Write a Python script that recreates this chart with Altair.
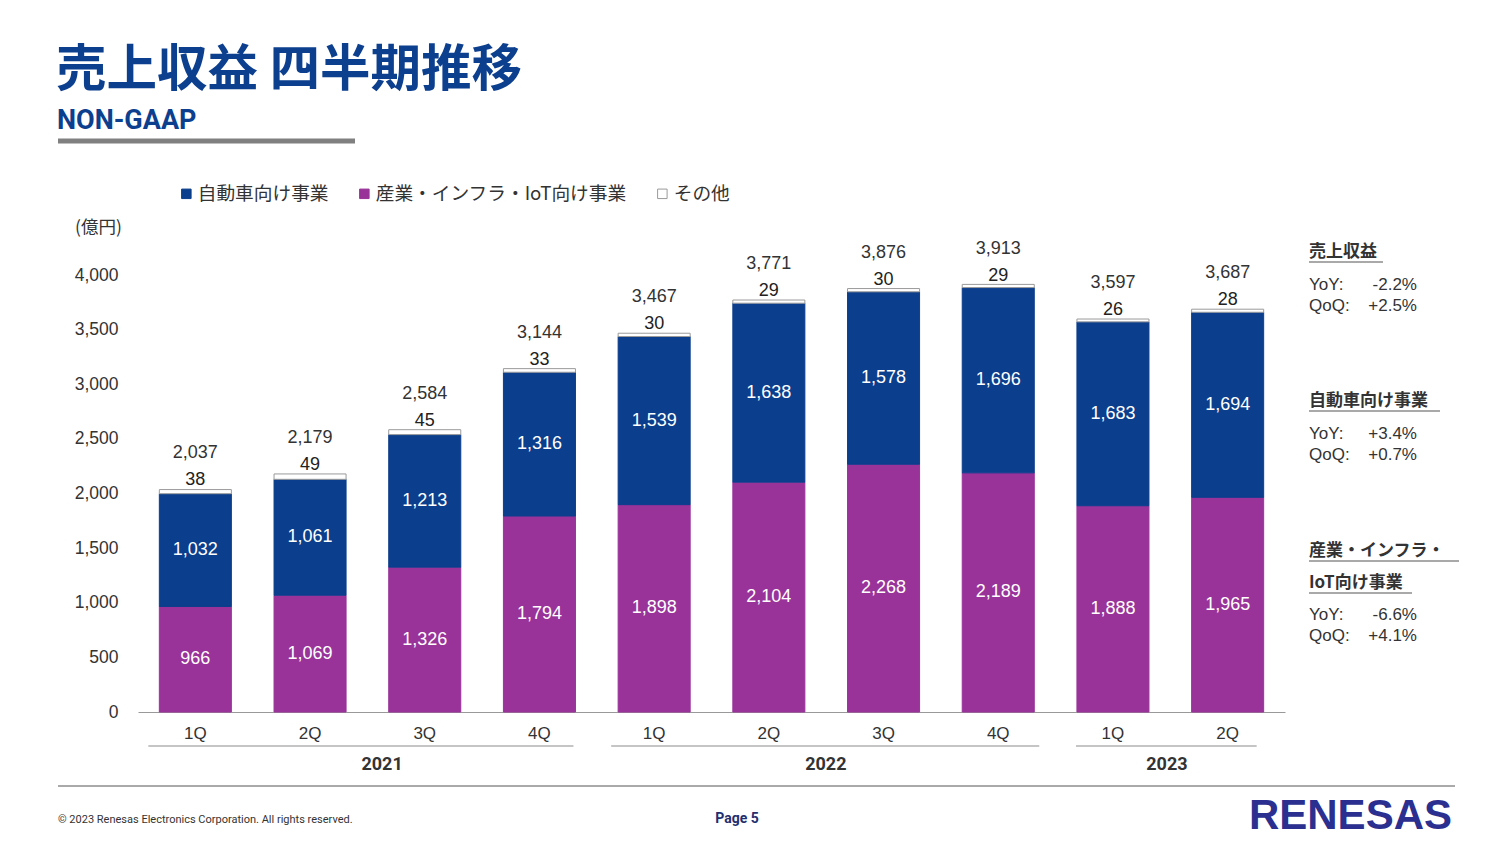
import altair as alt
import pandas as pd

# ---------------- data ----------------
years = ["2021", "2021", "2021", "2021", "2022", "2022", "2022", "2022", "2023", "2023"]
quarters = ["1Q", "2Q", "3Q", "4Q", "1Q", "2Q", "3Q", "4Q", "1Q", "2Q"]
industrial = [966, 1069, 1326, 1794, 1898, 2104, 2268, 2189, 1888, 1965]
automotive = [1032, 1061, 1213, 1316, 1539, 1638, 1578, 1696, 1683, 1694]
other = [38, 49, 45, 33, 30, 29, 30, 29, 26, 28]
totals = [2037, 2179, 2584, 3144, 3467, 3771, 3876, 3913, 3597, 3687]
series_names = ["自動車向け事業", "産業・インフラ・IoT向け事業", "その他"]
year_groups = ["2021", "2022", "2023"]
year_first = ["2021-1Q", "2022-1Q", "2023-1Q"]
year_last = ["2021-4Q", "2022-4Q", "2023-2Q"]
y_ticks = [0, 500, 1000, 1500, 2000, 2500, 3000, 3500, 4000]

keys = [f"{y}-{q}" for y, q in zip(years, quarters)]

rows = []
for i, k in enumerate(keys):
    rows.append({"key": k, "series": series_names[1], "value": industrial[i], "ord": 0})
    rows.append({"key": k, "series": series_names[0], "value": automotive[i], "ord": 1})
    rows.append({"key": k, "series": series_names[2], "value": other[i], "ord": 2})
long_df = pd.DataFrame(rows)

tot_df = pd.DataFrame({"key": keys, "total": totals,
                       "other": other,
                       "ind": industrial, "auto": automotive})
grp_df = pd.DataFrame({"year": year_groups, "first": year_first, "last": year_last})

BLUE = "#0b3e8c"
PURPLE = "#993399"
GREY_TXT = "#333333"
NUM_FONT = "Liberation Sans, Arial, sans-serif"
JP_FONT = "Noto Sans CJK JP, sans-serif"
NARROW = "Roboto, Liberation Sans, sans-serif"

W, H = 1147, 437
OX, OY = 138, 275  # plot origin in page coords
TOTAL_W, TOTAL_H = 1496, 834


def px(x):
    return x - OX


def py(y):
    return y - OY


y_axis = alt.Axis(title=None, values=y_ticks,
                  labelExpr="format(datum.value, ',')", grid=False,
                  domain=False, ticks=False, labelPadding=20,
                  labelFont=NUM_FONT, labelFontSize=17.5, labelColor=GREY_TXT)
y_scale = alt.Scale(domain=[0, 4000], nice=False)

x_enc = alt.X("key:N", sort=keys,
              scale=alt.Scale(paddingInner=0.372, paddingOuter=0.186),
              axis=alt.Axis(title=None, labelExpr="split(datum.value, '-')[1]",
                            labelAngle=0, labelFont=NUM_FONT, labelFontSize=17,
                            labelColor=GREY_TXT, ticks=False, labelPadding=13,
                            domainColor="#999999", domainWidth=1.2, grid=False))

leg = dict(title=None, orient="none", direction="horizontal",
           legendX=px(177), legendY=py(184),
           symbolType="square", symbolSize=90, symbolStrokeWidth=1,
           labelFont=JP_FONT, labelFontSize=18.7, labelLimit=600,
           labelColor=GREY_TXT, labelOffset=2, columnPadding=26)

bars = alt.Chart(long_df).mark_bar(strokeWidth=1, clip=False).encode(
    x=x_enc,
    y=alt.Y("sum(value):Q", stack="zero", scale=y_scale, axis=y_axis),
    fill=alt.Fill("series:N", scale=alt.Scale(domain=series_names,
                                              range=[BLUE, PURPLE, "#ffffff"]),
                  legend=alt.Legend(**leg)),
    stroke=alt.Stroke("series:N", scale=alt.Scale(domain=series_names,
                                                  range=[BLUE, PURPLE, "#9a9a9a"]),
                      legend=alt.Legend(**leg)),
    order=alt.Order("ord:Q"),
)

base_t = alt.Chart(tot_df)

ind_lbl = base_t.transform_calculate(mid="datum.ind / 2").mark_text(
    font=NUM_FONT, fontSize=18, color="white", baseline="middle").encode(
    x=alt.X("key:N", sort=keys), y=alt.Y("mid:Q", scale=y_scale, axis=y_axis),
    text=alt.Text("ind:Q", format=","))

auto_lbl = base_t.transform_calculate(mid="datum.ind + datum.auto / 2").mark_text(
    font=NUM_FONT, fontSize=18, color="white", baseline="middle").encode(
    x=alt.X("key:N", sort=keys), y=alt.Y("mid:Q", scale=y_scale, axis=y_axis),
    text=alt.Text("auto:Q", format=","))

oth_lbl = base_t.mark_text(font=NUM_FONT, fontSize=18, color="#222222",
                           baseline="middle", dy=-9).encode(
    x=alt.X("key:N", sort=keys), y=alt.Y("total:Q", scale=y_scale, axis=y_axis),
    text=alt.Text("other:Q", format=","))

tot_lbl = base_t.mark_text(font=NUM_FONT, fontSize=18, color=GREY_TXT,
                           baseline="middle", dy=-36).encode(
    x=alt.X("key:N", sort=keys), y=alt.Y("total:Q", scale=y_scale, axis=y_axis),
    text=alt.Text("total:Q", format=","))

grp_layers = []
for yr, x0, x1 in [("2021", -47, 34), ("2022", -43, 41), ("2023", -37, 29)]:
    grp_layers.append(
        alt.Chart(grp_df[grp_df.year == yr]).mark_rule(
            color="#8c8c8c", strokeWidth=1.2, xOffset=x0, x2Offset=x1).encode(
            x=alt.X("first:N", sort=keys), x2="last:N", y=alt.value(py(746))))

year_layers = []
for yr, anchor, dx in [("2021", "2021-2Q", 72), ("2022", "2022-2Q", 57), ("2023", "2023-1Q", 54)]:
    year_layers.append(
        alt.Chart(grp_df[grp_df.year == yr]).transform_calculate(a=f"'{anchor}'")
        .mark_text(font=NARROW, fontSize=18, fontWeight="bold", color=GREY_TXT,
                   baseline="middle", dx=dx)
        .encode(x=alt.X("a:N", sort=keys), y=alt.value(py(765)), text="year:N"))


def txt(s, x, y, size=17, weight="normal", color=GREY_TXT, font=NUM_FONT, align="left"):
    return alt.Chart(pd.DataFrame({"t": [s]})).mark_text(
        font=font, fontSize=size, fontWeight=weight, color=color,
        align=align, baseline="middle").encode(
        x=alt.value(px(x)), y=alt.value(py(y)), text="t:N")


def rule(x1, x2, y, color, width):
    return alt.Chart(pd.DataFrame({"a": [0]})).mark_rule(color=color, strokeWidth=width).encode(
        x=alt.value(px(x1)), x2=alt.value(px(x2)), y=alt.value(py(y)))


deco = [
    txt("売上収益 四半期推移", 56, 71, size=50.5, weight="bold", color="#0d3f8f", font=JP_FONT),
    txt("NON-GAAP", 57, 121, size=27, weight="bold", color="#0d3f8f", font=NARROW),
    rule(58, 355, 141, "#808080", 5),
    txt("(億円)", 75, 228, size=17.5, font=JP_FONT),
    # right panel
    txt("売上収益", 1309, 252, size=17, weight="bold", font=JP_FONT),
    rule(1309, 1383, 262, "#555555", 1.2),
    txt("YoY:", 1309, 285), txt("-2.2%", 1417, 285, align="right"),
    txt("QoQ:", 1309, 306), txt("+2.5%", 1417, 306, align="right"),
    txt("自動車向け事業", 1309, 401, size=17, weight="bold", font=JP_FONT),
    rule(1309, 1440, 411, "#555555", 1.2),
    txt("YoY:", 1309, 434), txt("+3.4%", 1417, 434, align="right"),
    txt("QoQ:", 1309, 455), txt("+0.7%", 1417, 455, align="right"),
    txt("産業・インフラ・", 1309, 551, size=17, weight="bold", font=JP_FONT),
    rule(1309, 1459, 561, "#555555", 1.2),
    txt("IoT向け事業", 1309, 583, size=17, weight="bold", font=JP_FONT),
    rule(1309, 1412, 593, "#555555", 1.2),
    txt("YoY:", 1309, 615), txt("-6.6%", 1417, 615, align="right"),
    txt("QoQ:", 1309, 636), txt("+4.1%", 1417, 636, align="right"),
    # footer
    rule(58, 1455, 786, "#555555", 1),
    txt("© 2023 Renesas Electronics Corporation. All rights reserved.", 58, 820,
        size=11, font=NARROW),
    txt("Page 5", 737, 819, size=14, weight="bold", font=NARROW, align="center",
        color="#1f2f6f"),
    txt("RENESAS", 1452, 816, size=42, weight="bold", font=NUM_FONT, align="right",
        color="#2b2f8f"),
]

chart = alt.layer(bars, ind_lbl, auto_lbl, oth_lbl, tot_lbl,
                  *grp_layers, *year_layers, *deco).properties(
    width=W, height=H,
    autosize=alt.AutoSizeParams(type="none"),
    padding={"left": OX - 8, "top": OY - 8, "right": TOTAL_W - (OX - 8) - W,
             "bottom": TOTAL_H - (OY - 8) - H},
).configure(background="white", view=alt.ViewConfig(stroke=None))

chart.save("out.html", embed_options={"renderer": "svg", "actions": False})
